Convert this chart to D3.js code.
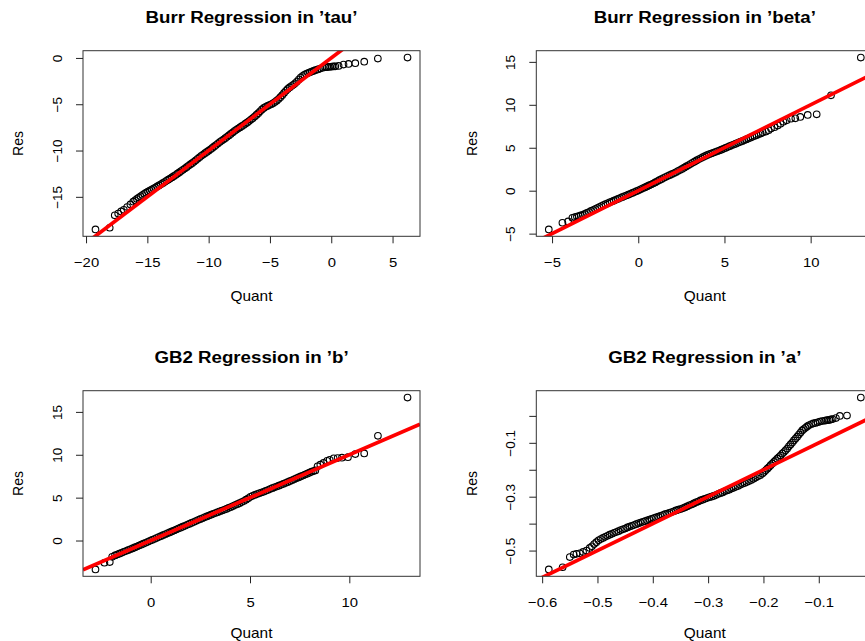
<!DOCTYPE html>
<html>
<head>
<meta charset="utf-8">
<script src="https://cdn.jsdelivr.net/npm/d3@7"></script>
<style>
	body { margin: 0; background: #ffffff; }
	svg { display: block; }
</style>
</head>
<body>
<div id="div_id_main"></div>
<script>

// ---------------------------------------------------------------
// data

var vTitles = ["Burr Regression in \u2019tau\u2019", "Burr Regression in \u2019beta\u2019",
               "GB2 Regression in \u2019b\u2019", "GB2 Regression in \u2019a\u2019"];

var sLabel_X = "Quant";
var sLabel_Y = "Res";

// reference line (abline) per panel
var vLineIntercept = [0, 0, 0, 0];
var vLineSlope = [1, 1, 1, 1];

// panel 1 : tau
var vTauQuant = [-19.23,-18.07,-17.66,-17.38,-17.14,-16.92,-16.65,-16.38,-16.15,
	-16.00,-15.85,-15.70,-15.55,-15.40,-15.25,-15.10,-14.95,-14.80,-14.65,
	-14.50,-14.35,-14.20,-14.05,-13.90,-13.75,-13.60,-13.45,-13.30,-13.15,
	-13.00,-12.85,-12.70,-12.55,-12.40,-12.25,-12.10,-11.95,-11.80,-11.65,
	-11.50,-11.35,-11.20,-11.05,-10.90,-10.75,-10.60,-10.45,-10.30,-10.15,
	-10.00,-9.85,-9.70,-9.55,-9.40,-9.25,-9.10,-8.95,-8.80,-8.65,
	-8.50,-8.35,-8.20,-8.05,-7.90,-7.75,-7.60,-7.45,-7.30,-7.15,
	-7.00,-6.85,-6.70,-6.55,-6.40,-6.25,-6.10,-5.95,-5.80,-5.65,
	-5.50,-5.35,-5.20,-5.05,-4.90,-4.75,-4.60,-4.45,-4.30,-4.15,
	-4.00,-3.85,-3.70,-3.55,-3.40,-3.25,-3.10,-2.95,-2.80,-2.65,
	-2.50,-2.35,-2.20,-2.05,-1.90,-1.75,-1.60,-1.45,-1.30,
	-1.10,-0.90,-0.68,-0.49,-0.35,-0.22,-0.08,0.05,0.20,0.33,0.60,1.00,1.41,1.96,2.69,3.80,6.22];
var vTauRes = [-18.52,-18.34,-17.00,-16.80,-16.58,-16.40,-16.10,-15.82,-15.52,
	-15.38,-15.23,-15.08,-14.95,-14.80,-14.67,-14.55,-14.43,-14.32,-14.21,
	-14.10,-13.99,-13.88,-13.77,-13.65,-13.53,-13.40,-13.27,-13.15,-13.03,
	-12.90,-12.77,-12.64,-12.50,-12.36,-12.22,-12.08,-11.94,-11.80,-11.65,
	-11.50,-11.36,-11.22,-11.06,-10.90,-10.73,-10.57,-10.43,-10.29,-10.15,
	-10.01,-9.87,-9.72,-9.56,-9.40,-9.24,-9.09,-8.95,-8.81,-8.67,
	-8.52,-8.37,-8.21,-8.05,-7.90,-7.76,-7.63,-7.50,-7.37,-7.24,
	-7.10,-6.96,-6.82,-6.66,-6.50,-6.33,-6.15,-5.96,-5.76,-5.56,
	-5.40,-5.28,-5.18,-5.09,-5.00,-4.90,-4.77,-4.62,-4.44,-4.24,
	-4.02,-3.78,-3.55,-3.35,-3.18,-3.04,-2.90,-2.74,-2.55,-2.33,
	-2.12,-1.95,-1.82,-1.72,-1.63,-1.55,-1.47,-1.40,-1.32,
	-1.24,-1.15,-1.06,-1.00,-0.99,-0.97,-0.95,-0.93,-0.92,-0.90,-0.86,-0.72,-0.65,-0.57,-0.40,-0.07,0.04];

// panel 2 : beta
var vBetaQuant = [-5.19,-4.40,-4.07,-3.82,-3.68,-3.56,-3.45,-3.34,
	-3.22,-3.10,-2.98,-2.86,-2.74,-2.62,-2.50,-2.38,-2.26,-2.14,
	-2.02,-1.90,-1.78,-1.66,-1.54,-1.42,-1.30,-1.18,-1.06,-0.94,
	-0.82,-0.70,-0.58,-0.46,-0.34,-0.22,-0.10,0.02,0.14,0.26,
	0.38,0.50,0.62,0.74,0.86,0.98,1.10,1.22,1.34,1.46,
	1.58,1.70,1.82,1.94,2.06,2.18,2.30,2.42,2.54,2.66,
	2.78,2.90,3.02,3.14,3.26,3.38,3.50,3.62,3.74,3.86,
	3.98,4.10,4.22,4.34,4.46,4.58,4.70,4.82,4.94,5.06,
	5.18,5.30,5.42,5.54,5.66,5.78,5.90,6.02,6.14,6.26,
	6.38,6.50,6.62,6.74,6.86,6.98,7.10,7.22,
	7.41,7.56,7.70,7.90,8.09,8.25,8.42,8.61,8.86,9.11,9.40,9.83,10.35,11.18,12.91];
var vBetaRes = [-4.51,-3.73,-3.58,-3.15,-3.07,-3.01,-2.95,-2.88,
	-2.80,-2.70,-2.58,-2.48,-2.36,-2.25,-2.14,-2.02,-1.91,-1.79,
	-1.68,-1.57,-1.46,-1.36,-1.26,-1.16,-1.06,-0.96,-0.86,-0.76,
	-0.66,-0.56,-0.46,-0.36,-0.26,-0.16,-0.06,0.05,0.16,0.27,
	0.38,0.50,0.61,0.72,0.84,0.96,1.09,1.22,1.34,1.47,
	1.59,1.70,1.81,1.92,2.03,2.15,2.28,2.41,2.54,2.68,
	2.82,2.96,3.10,3.24,3.38,3.52,3.65,3.78,3.90,4.02,
	4.13,4.23,4.32,4.41,4.50,4.59,4.68,4.78,4.88,4.98,
	5.08,5.18,5.28,5.38,5.48,5.58,5.68,5.77,5.87,5.97,
	6.07,6.17,6.27,6.37,6.47,6.57,6.67,6.77,
	6.88,7.05,7.23,7.40,7.58,7.80,8.04,8.19,8.39,8.43,8.59,8.82,8.89,11.11,15.50];

// panel 3 : b
var vBQuant = [-2.78,-2.33,-2.06,-1.94,-1.80,-1.69,
	-1.58,-1.47,-1.36,-1.25,-1.14,-1.03,-0.92,-0.81,-0.70,-0.59,
	-0.48,-0.37,-0.26,-0.15,-0.04,0.07,0.18,0.29,0.40,0.51,
	0.62,0.73,0.84,0.95,1.06,1.17,1.28,1.39,1.50,1.61,
	1.72,1.83,1.94,2.05,2.16,2.27,2.38,2.49,2.60,2.71,
	2.82,2.93,3.04,3.15,3.26,3.37,3.48,3.59,3.70,3.81,
	3.92,4.03,4.14,4.25,4.36,4.47,4.58,4.69,4.80,4.91,
	5.02,5.13,5.24,5.35,5.46,5.57,5.68,5.79,5.90,6.01,
	6.12,6.23,6.34,6.45,6.56,6.67,6.78,6.89,7.00,7.11,
	7.22,7.33,7.44,7.55,7.66,7.77,7.88,7.99,8.10,
	8.20,8.29,8.40,8.54,8.70,8.88,9.01,9.21,9.41,9.63,9.93,10.30,10.75,11.44,12.93];
var vBRes = [-3.37,-2.59,-2.51,-1.90,-1.74,-1.63,
	-1.53,-1.43,-1.32,-1.22,-1.12,-1.02,-0.92,-0.81,-0.70,-0.59,
	-0.48,-0.37,-0.26,-0.15,-0.04,0.07,0.18,0.29,0.40,0.51,
	0.62,0.73,0.84,0.95,1.06,1.17,1.28,1.39,1.50,1.61,
	1.72,1.83,1.94,2.05,2.16,2.27,2.38,2.49,2.60,2.71,
	2.81,2.91,3.01,3.11,3.21,3.31,3.40,3.49,3.59,3.69,
	3.80,3.91,4.02,4.13,4.24,4.36,4.48,4.61,4.76,4.92,
	5.10,5.22,5.32,5.42,5.51,5.60,5.69,5.79,5.89,6.00,
	6.10,6.20,6.30,6.40,6.50,6.60,6.70,6.81,6.92,7.03,
	7.14,7.25,7.36,7.47,7.58,7.69,7.80,7.91,8.03,
	8.10,8.18,8.65,8.84,9.05,9.30,9.42,9.58,9.62,9.66,9.72,10.08,10.16,12.21,16.67];

// panel 4 : a
var vAQuant = [-0.588,-0.563,-0.550,-0.543,-0.538,-0.532,-0.526,-0.520,-0.514,-0.510,
	-0.506,-0.502,-0.498,-0.494,-0.490,-0.486,-0.482,-0.478,-0.474,-0.470,
	-0.466,-0.462,-0.458,-0.454,-0.450,-0.446,-0.442,-0.438,-0.434,-0.430,
	-0.426,-0.422,-0.418,-0.414,-0.410,-0.406,-0.402,-0.398,-0.394,-0.390,
	-0.386,-0.382,-0.378,-0.374,-0.370,-0.366,-0.362,-0.358,-0.354,-0.350,
	-0.346,-0.342,-0.338,-0.334,-0.330,-0.326,-0.322,-0.318,-0.314,-0.310,
	-0.306,-0.302,-0.298,-0.294,-0.290,-0.286,-0.282,-0.278,-0.274,-0.270,
	-0.266,-0.262,-0.258,-0.254,-0.250,-0.246,-0.242,-0.238,-0.234,-0.230,
	-0.226,-0.222,-0.218,-0.214,-0.210,-0.206,-0.202,
	-0.199,-0.196,-0.193,-0.190,-0.187,-0.184,-0.181,-0.178,-0.175,-0.172,
	-0.169,-0.166,-0.163,-0.160,-0.157,-0.154,-0.151,-0.148,-0.145,-0.142,
	-0.139,-0.136,-0.133,-0.130,-0.127,-0.124,-0.121,-0.118,
	-0.114,-0.110,-0.106,-0.102,-0.098,-0.094,
	-0.090,-0.087,-0.084,-0.081,-0.078,-0.075,-0.069,-0.062,-0.049,-0.024];
var vARes = [-0.570,-0.562,-0.524,-0.515,-0.512,-0.510,-0.505,-0.500,-0.490,-0.484,
	-0.476,-0.469,-0.462,-0.457,-0.453,-0.449,-0.445,-0.441,-0.438,-0.434,
	-0.431,-0.428,-0.424,-0.421,-0.418,-0.414,-0.411,-0.408,-0.405,-0.402,
	-0.399,-0.396,-0.393,-0.391,-0.388,-0.385,-0.382,-0.379,-0.377,-0.374,
	-0.371,-0.368,-0.365,-0.363,-0.360,-0.357,-0.354,-0.351,-0.348,-0.346,
	-0.343,-0.340,-0.336,-0.332,-0.329,-0.325,-0.321,-0.318,-0.314,-0.311,
	-0.308,-0.305,-0.302,-0.300,-0.297,-0.294,-0.290,-0.287,-0.284,-0.280,
	-0.277,-0.274,-0.270,-0.267,-0.263,-0.260,-0.256,-0.252,-0.249,-0.245,
	-0.242,-0.238,-0.233,-0.229,-0.224,-0.220,-0.214,
	-0.208,-0.202,-0.196,-0.190,-0.183,-0.177,-0.171,-0.165,-0.159,-0.153,
	-0.147,-0.140,-0.134,-0.128,-0.121,-0.113,-0.106,-0.099,-0.091,-0.084,
	-0.077,-0.069,-0.062,-0.054,-0.049,-0.044,-0.039,-0.035,
	-0.031,-0.028,-0.026,-0.024,-0.021,-0.019,
	-0.018,-0.017,-0.016,-0.015,-0.013,-0.012,-0.008,0.000,0.001,0.068];

// tick values and labels
var vTauXTicks = [-20, -15, -10, -5, 0, 5];
var vTauXLabels = ["\u221220", "\u221215", "\u221210", "\u22125", "0", "5"];
var vTauYTicks = [-15, -10, -5, 0];
var vTauYLabels = ["\u221215", "\u221210", "\u22125", "0"];

var vBetaXTicks = [-5, 0, 5, 10];
var vBetaXLabels = ["\u22125", "0", "5", "10"];
var vBetaYTicks = [-5, 0, 5, 10, 15];
var vBetaYLabels = ["\u22125", "0", "5", "10", "15"];

var vBXTicks = [0, 5, 10];
var vBXLabels = ["0", "5", "10"];
var vBYTicks = [0, 5, 10, 15];
var vBYLabels = ["0", "5", "10", "15"];

var vAXTicks = [-0.6, -0.5, -0.4, -0.3, -0.2, -0.1];
var vAXLabels = ["\u22120.6", "\u22120.5", "\u22120.4", "\u22120.3", "\u22120.2", "\u22120.1"];
var vAYTicks = [-0.5, -0.4, -0.3, -0.2, -0.1, 0.0];
var vAYLabels = ["\u22120.5", "", "\u22120.3", "", "\u22120.1", ""];

// ---------------------------------------------------------------

var MAIN_WIDTH = 865;
var MAIN_HEIGHT = 641;

var BOX_LEFT = [83, 536.3];
var BOX_TOP = [50.7, 390.7];
var BOX_WIDTH = 337;
var BOX_HEIGHT = 185.6;

// baseline of "Quant" below the box, per row (bottom row is squeezed by the page edge)
var QUANT_OFFSET = [64.7, 61.5];

var FONT_FAMILY = "'Liberation Sans', Arial, Helvetica, sans-serif";
var TEXT_STRETCH = 1.1;

var vPanels = [
	{ quant: vTauQuant,  res: vTauRes,  xTicks: vTauXTicks,  xLabels: vTauXLabels,  yTicks: vTauYTicks,  yLabels: vTauYLabels },
	{ quant: vBetaQuant, res: vBetaRes, xTicks: vBetaXTicks, xLabels: vBetaXLabels, yTicks: vBetaYTicks, yLabels: vBetaYLabels },
	{ quant: vBQuant,    res: vBRes,    xTicks: vBXTicks,    xLabels: vBXLabels,    yTicks: vBYTicks,    yLabels: vBYLabels },
	{ quant: vAQuant,    res: vARes,    xTicks: vAXTicks,    xLabels: vAXLabels,    yTicks: vAYTicks,    yLabels: vAYLabels }
];

function funcGetDomain(vValues) {

	// R style: data range stretched by 4% on each side
	let vExtent = d3.extent(vValues);
	let fPad = (vExtent[1] - vExtent[0]) * 0.04;

	return [vExtent[0] - fPad, vExtent[1] + fPad];
}

function funcDraw_Panel(svgMain, nPanel) {

	let dsPanel = vPanels[nPanel];

	let nRow = Math.floor(nPanel / 2);
	let x0 = BOX_LEFT[nPanel % 2];
	let y0 = BOX_TOP[nRow];

	let fScale_X = d3.scaleLinear()
						.domain(funcGetDomain(dsPanel.quant))
						.range([x0, x0 + BOX_WIDTH]);

	let fScale_Y = d3.scaleLinear()
						.domain(funcGetDomain(dsPanel.res))
						.range([y0 + BOX_HEIGHT, y0]);

	let gPanel = svgMain.append("g")
						.attr("id", "g_id_panel_" + nPanel);

	gPanel.append("clipPath")
			.attr("id", "clip_id_panel_" + nPanel)
			.append("rect")
				.attr("x", x0)
				.attr("y", y0)
				.attr("width", BOX_WIDTH)
				.attr("height", BOX_HEIGHT);

	let gPlot = gPanel.append("g")
						.attr("clip-path", "url(#clip_id_panel_" + nPanel + ")");

	// points
	gPlot.selectAll("circle")
			.data(dsPanel.quant)
			.enter()
			.append("circle")
				.attr("cx", function (d) { return fScale_X(d); })
				.attr("cy", function (d, i) { return fScale_Y(dsPanel.res[i]); })
				.attr("r", 3.3)
				.attr("fill", "none")
				.attr("stroke", "#000000")
				.attr("stroke-width", 1.1);

	// reference line
	let vDomainX = fScale_X.domain();

	gPlot.append("line")
			.attr("x1", fScale_X(vDomainX[0]))
			.attr("y1", fScale_Y(vLineIntercept[nPanel] + vLineSlope[nPanel] * vDomainX[0]))
			.attr("x2", fScale_X(vDomainX[1]))
			.attr("y2", fScale_Y(vLineIntercept[nPanel] + vLineSlope[nPanel] * vDomainX[1]))
			.attr("stroke", "#ff0000")
			.attr("stroke-width", 3.7);

	// box
	gPanel.append("rect")
			.attr("x", x0)
			.attr("y", y0)
			.attr("width", BOX_WIDTH)
			.attr("height", BOX_HEIGHT)
			.attr("fill", "none")
			.attr("stroke", "#333333")
			.attr("stroke-width", 1);

	// x axis
	let gAxisX = gPanel.append("g")
						.attr("transform", "translate(0," + (y0 + BOX_HEIGHT) + ")")
						.call(d3.axisBottom(fScale_X)
								.tickValues(dsPanel.xTicks)
								.tickFormat(function (d, i) { return dsPanel.xLabels[i]; })
								.tickSize(7)
								.tickSizeOuter(0));

	gAxisX.select(".domain").remove();
	gAxisX.attr("font-family", FONT_FAMILY).attr("font-size", 13.5);
	gAxisX.selectAll(".tick line").attr("stroke", "#222222");
	gAxisX.selectAll(".tick text")
			.attr("fill", "#000000")
			.attr("y", 31)
			.attr("dy", null)
			.attr("transform", "scale(" + TEXT_STRETCH + ",1)");

	// y axis
	let gAxisY = gPanel.append("g")
						.attr("transform", "translate(" + x0 + ",0)")
						.call(d3.axisLeft(fScale_Y)
								.tickValues(dsPanel.yTicks)
								.tickFormat(function (d, i) { return dsPanel.yLabels[i]; })
								.tickSize(7)
								.tickSizeOuter(0));

	gAxisY.select(".domain").remove();
	gAxisY.attr("font-family", FONT_FAMILY).attr("font-size", 13.5);
	gAxisY.selectAll(".tick line").attr("stroke", "#222222");
	gAxisY.selectAll(".tick text")
			.attr("fill", "#000000")
			.attr("x", null)
			.attr("dy", null)
			.attr("text-anchor", "middle")
			.attr("transform", "translate(-21,0) rotate(-90)");

	// titles
	gPanel.append("text")
			.attr("transform", "translate(" + (x0 + BOX_WIDTH / 2) + "," + (y0 - 27.4) + ") scale(" + TEXT_STRETCH + ",1)")
			.attr("text-anchor", "middle")
			.attr("font-family", FONT_FAMILY)
			.attr("font-weight", "bold")
			.attr("font-size", 17)
			.text(vTitles[nPanel]);

	gPanel.append("text")
			.attr("transform", "translate(" + (x0 + BOX_WIDTH / 2) + "," + (y0 + BOX_HEIGHT + QUANT_OFFSET[nRow]) + ") scale(" + TEXT_STRETCH + ",1)")
			.attr("text-anchor", "middle")
			.attr("font-family", FONT_FAMILY)
			.attr("font-size", 14)
			.text(sLabel_X);

	gPanel.append("text")
			.attr("transform", "translate(" + (x0 - 59.7) + "," + (y0 + BOX_HEIGHT / 2) + ") rotate(-90)")
			.attr("text-anchor", "middle")
			.attr("font-family", FONT_FAMILY)
			.attr("font-size", 14)
			.text(sLabel_Y);
}

function funcDraw_Main() {

	let svgMain = d3.select("#div_id_main")
					.append("svg")
						.attr("id", "svg_id_main")
						.attr("width", MAIN_WIDTH)
						.attr("height", MAIN_HEIGHT)
						.style("background", "#ffffff");

	for (let nPanel = 0; nPanel < vPanels.length; nPanel++) {

		funcDraw_Panel(svgMain, nPanel);
	}
}

funcDraw_Main();

</script>
</body>
</html>
